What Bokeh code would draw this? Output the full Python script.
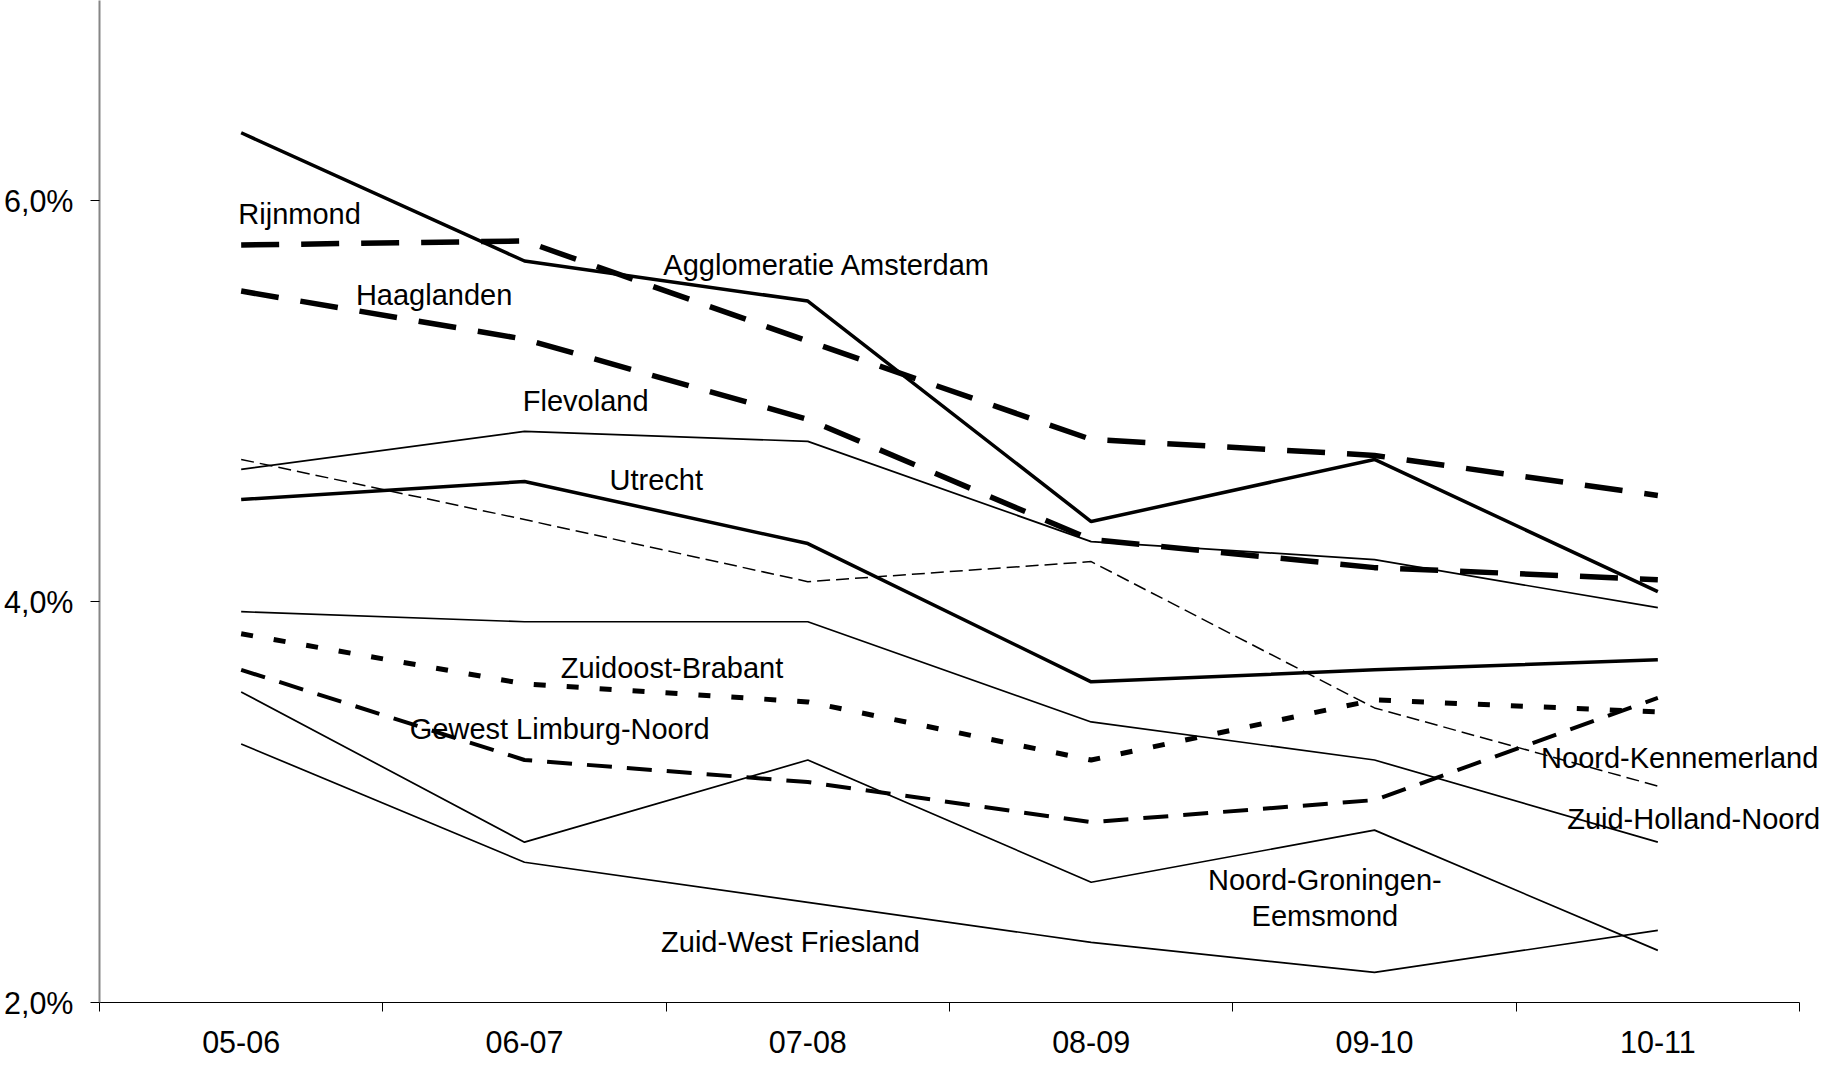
import numpy as np
from bokeh.plotting import figure
from bokeh.models import Range1d, FixedTicker, Label
from bokeh.embed import file_html
from bokeh.resources import INLINE

# ---------------- data ----------------
categories = ["05-06", "06-07", "07-08", "08-09", "09-10", "10-11"]

agglomeratie_amsterdam = [6.34, 5.70, 5.50, 4.40, 4.71, 4.05]
rijnmond = [5.78, 5.80, 5.30, 4.81, 4.73, 4.53]
haaglanden = [5.55, 5.31, 4.91, 4.31, 4.17, 4.11]
flevoland = [4.66, 4.85, 4.80, 4.30, 4.21, 3.97]
utrecht = [4.51, 4.60, 4.29, 3.60, 3.66, 3.71]
noord_kennemerland = [4.71, 4.41, 4.10, 4.20, 3.47, 3.08]
zuid_holland_noord = [3.95, 3.90, 3.90, 3.40, 3.21, 2.80]
zuidoost_brabant = [3.84, 3.59, 3.50, 3.21, 3.51, 3.45]
gewest_limburg_noord = [3.66, 3.21, 3.10, 2.90, 3.01, 3.52]
noord_groningen_eemsmond = [3.55, 2.80, 3.21, 2.60, 2.86, 2.26]
zuid_west_friesland = [3.29, 2.70, 2.50, 2.30, 2.15, 2.36]

y_ticks = [2.0, 4.0, 6.0]
y_tick_labels = ["2,0%", "4,0%", "6,0%"]

# ---------------- styles ----------------
FONT = "Liberation Sans"
series = [
    (agglomeratie_amsterdam, 3.5, "solid"),
    (rijnmond, 5.5, "38 22"),
    (haaglanden, 5.5, "38 22"),
    (flevoland, 1.7, "solid"),
    (utrecht, 3.5, "solid"),
    (noord_kennemerland, 1.5, "13 6"),
    (zuid_holland_noord, 1.7, "solid"),
    (zuidoost_brabant, 5, "12 21"),
    (gewest_limburg_noord, 4, "25 15"),
    (noord_groningen_eemsmond, 1.7, "solid"),
    (zuid_west_friesland, 1.7, "solid"),
]

# label placement (x in category units, y in % units, alignment)
labels = [
    ("Rijnmond", 0.49, 5.935, "left"),
    ("Agglomeratie Amsterdam", 1.99, 5.68, "left"),
    ("Haaglanden", 0.905, 5.53, "left"),
    ("Flevoland", 1.494, 5.00, "left"),
    ("Utrecht", 1.80, 4.605, "left"),
    ("Zuidoost-Brabant", 1.628, 3.67, "left"),
    ("Gewest Limburg-Noord", 1.095, 3.366, "left"),
    ("Noord-Kennemerland", 5.088, 3.22, "left"),
    ("Zuid-Holland-Noord", 5.18, 2.915, "left"),
    ("Noord-Groningen-", 4.325, 2.612, "center"),
    ("Eemsmond", 4.325, 2.43, "center"),
    ("Zuid-West Friesland", 1.982, 2.30, "left"),
]

n = len(categories)
x = np.arange(n) + 0.5

W, H = 1826, 1065
BL, BR, BT, BB = 99, 4, 0, 63
frame_w = W - BL - BR
x_end = n * frame_w / 1700.0

p = figure(
    width=W, height=H,
    x_range=Range1d(0, x_end), y_range=Range1d(2.0, 7.0),
    output_backend="svg", toolbar_location=None,
    min_border_left=BL, min_border_right=BR,
    min_border_top=BT, min_border_bottom=BB,
)
p.outline_line_color = None
p.grid.visible = False
p.background_fill_color = "white"
p.border_fill_color = "white"

for vals, w, dash in series:
    p.line(x, vals, line_color="black", line_width=w, line_dash=dash)

# x axis
xa = p.xaxis[0]
xa.bounds = (0, n)
xa.ticker = FixedTicker(ticks=list(x), minor_ticks=list(range(n + 1)))
xa.major_label_overrides = {float(xi): c for xi, c in zip(x, categories)}
xa.major_tick_out = 0
xa.major_tick_in = 0
xa.minor_tick_out = 9
xa.minor_tick_in = 0
xa.minor_tick_line_color = "black"
xa.axis_line_color = "black"
xa.axis_line_width = 1
xa.major_label_text_font = FONT
xa.major_label_text_font_size = "30.5px"
xa.major_label_text_color = "black"
xa.major_label_standoff = 19

# y axis
ya = p.yaxis[0]
ya.ticker = FixedTicker(ticks=y_ticks, minor_ticks=[])
ya.major_label_overrides = dict(zip(y_ticks, y_tick_labels))
ya.axis_line_color = "#868686"
ya.axis_line_width = 2
ya.major_tick_out = 9
ya.major_tick_in = 0
ya.major_tick_line_color = "black"
ya.minor_tick_out = 0
ya.minor_tick_in = 0
ya.major_label_text_font = FONT
ya.major_label_text_font_size = "30.5px"
ya.major_label_text_color = "black"
ya.major_label_standoff = 17

for txt, lx, ly, al in labels:
    p.add_layout(Label(x=lx, y=ly, text=txt, text_font=FONT, text_font_size="29px",
                       text_color="black", text_align=al, text_baseline="alphabetic"))

open("out.html", "w").write(file_html(p, INLINE))
